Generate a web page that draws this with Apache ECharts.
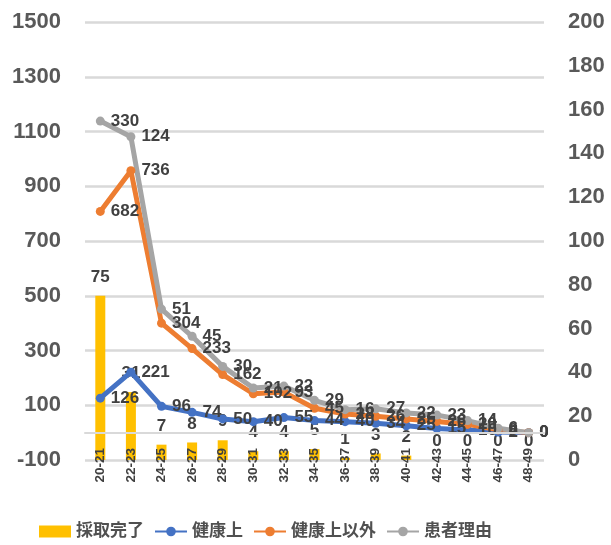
<!DOCTYPE html>
<html>
<head>
<meta charset="utf-8">
<script src="https://cdn.jsdelivr.net/npm/echarts@6/dist/echarts.min.js"></script>
<style>
html,body{margin:0;padding:0;background:#fff;}
#chart{width:611px;height:545px;}
</style>
</head>
<body>
<div id="chart"></div>
<script>
const categories = ['20-21','22-23','24-25','26-27','28-29','30-31','32-33','34-35','36-37','38-39','40-41','42-43','44-45','46-47','48-49'];
const completed = [75,31,7,8,9,4,4,5,1,3,2,0,0,0,0];
const health = [126,221,96,74,50,40,55,44,40,34,25,15,10,2,0];
const nonHealth = [682,736,304,233,162,102,93,45,28,26,25,26,20,8,0];
const patient = [330,124,51,45,30,21,22,29,16,27,22,23,14,6,0];
const seriesNames = ['採取完了','健康上','健康上以外','患者理由'];

const FONT = "'Liberation Sans','Noto Sans CJK JP',sans-serif";
const labelStyle = {show:true, position:'right', distance:6, color:'#404040', fontSize:17, fontWeight:'bold', fontFamily:FONT};

function lineSeries(name, data, color){
  return {
    name:name, type:'line', data:data, stack:'total', yAxisIndex:0,
    symbol:'circle', symbolSize:9,
    lineStyle:{color:color, width:5},
    itemStyle:{color:color},
    label:labelStyle
  };
}

const chart = echarts.init(document.getElementById('chart'), null, {renderer:'canvas'});
chart.setOption({
  animation:false,
  backgroundColor:'#ffffff',
  grid:{left:85, right:67, top:22, bottom:85},
  legend:{
    left:34, top:518, itemWidth:32, itemHeight:12, itemGap:10,
    textStyle:{color:'#505050', fontSize:17, fontWeight:'bold', fontFamily:FONT},
    data:seriesNames.map((n,i)=> i===0 ? {name:n, icon:'rect'} : {name:n})
  },
  xAxis:{
    type:'category', data:categories, z:10,
    axisTick:{show:false},
    axisLine:{lineStyle:{color:'#d9d9d9', width:2}},
    axisLabel:{rotate:90, margin:-12, color:'#404040', fontSize:13.5, fontWeight:'bold', fontFamily:FONT, interval:0}
  },
  yAxis:[
    {type:'value', min:-100, max:1500, interval:200,
     axisLine:{show:false}, axisTick:{show:false},
     splitLine:{lineStyle:{color:'#d9d9d9', width:2.5}},
     axisLabel:{color:'#595959', fontSize:22, fontWeight:'bold', fontFamily:FONT, margin:24, formatter:(v)=>String(v)}},
    {type:'value', min:0, max:200, interval:20,
     axisLine:{show:false}, axisTick:{show:false}, splitLine:{show:false},
     axisLabel:{color:'#595959', fontSize:22, fontWeight:'bold', fontFamily:FONT, margin:24, formatter:(v)=>String(v)}}
  ],
  series:[
    {name:seriesNames[0], type:'bar', data:completed, yAxisIndex:1, barWidth:10,
     itemStyle:{color:'#FFC000'},
     label:{show:true, position:'top', distance:10, color:'#404040', fontSize:17, fontWeight:'bold', fontFamily:FONT}},
    lineSeries(seriesNames[1], health, '#4472C4'),
    lineSeries(seriesNames[2], nonHealth, '#ED7D31'),
    lineSeries(seriesNames[3], patient, '#A5A5A5')
  ]
});
</script>
</body>
</html>
